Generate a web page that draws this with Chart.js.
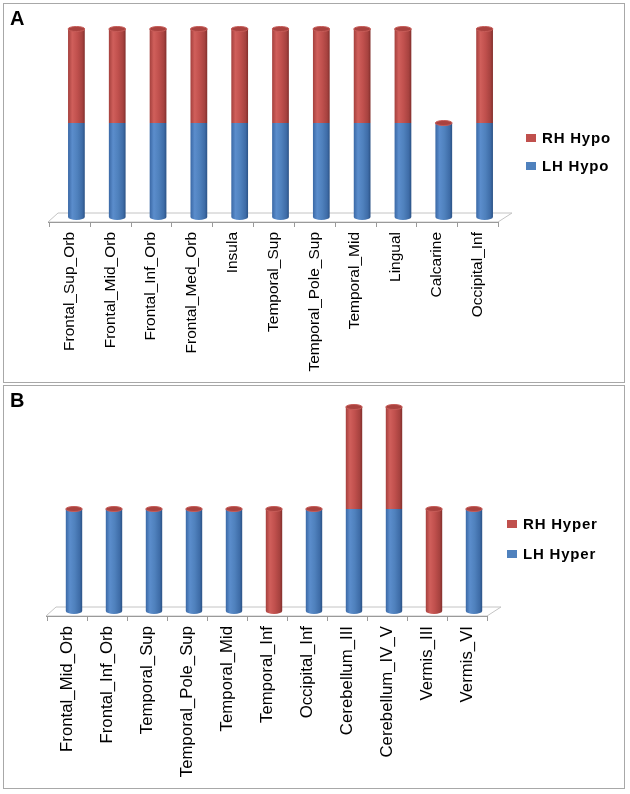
<!DOCTYPE html>
<html>
<head>
<meta charset="utf-8">
<script src="https://cdn.jsdelivr.net/npm/chart.js@4/dist/chart.umd.min.js"></script>
<style>
body{margin:0;background:#fff;width:630px;height:794px;position:relative;font-family:"Liberation Sans",Arial,sans-serif;}
.panel{position:absolute;left:3px;width:620px;border:1px solid #a8a8a8;}
#pA{top:3px;height:378px;}
#pB{top:385px;height:402px;}
.tag{position:absolute;left:6px;top:3px;font:bold 20px "Liberation Sans",Arial,sans-serif;}
.panel canvas{position:absolute;left:0;top:0;}
.legend{position:absolute;font:bold 15px "Liberation Sans",Arial,sans-serif;letter-spacing:0.8px;color:#000;}
.legend div{position:absolute;white-space:nowrap;line-height:16px;}
.legend span{display:inline-block;width:10px;height:8px;margin-right:6px;vertical-align:1px;}
</style>
</head>
<body>
<div class="panel" id="pA">
  <canvas id="chartA" width="620" height="378"></canvas>
  <div class="tag">A</div>
  <div class="legend" style="left:522px;top:126px;">
    <div style="top:0"><span style="background:#C0504D"></span>RH Hypo</div>
    <div style="top:28px"><span style="background:#4F81BD"></span>LH Hypo</div>
  </div>
</div>
<div class="panel" id="pB">
  <canvas id="chartB" width="620" height="402"></canvas>
  <div class="tag">B</div>
  <div class="legend" style="left:503px;top:130px;">
    <div style="top:0"><span style="background:#C0504D"></span>RH Hyper</div>
    <div style="top:30px"><span style="background:#4F81BD"></span>LH Hyper</div>
  </div>
</div>
<script>
const regionsA = ['Frontal_Sup_Orb','Frontal_Mid_Orb','Frontal_Inf_Orb','Frontal_Med_Orb','Insula','Temporal_Sup','Temporal_Pole_Sup','Temporal_Mid','Lingual','Calcarine','Occipital_Inf'];
const lhHypo = [1,1,1,1,1,1,1,1,1,1,1];
const rhHypo = [1,1,1,1,1,1,1,1,1,0,1];

const regionsB = ['Frontal_Mid_Orb','Frontal_Inf_Orb','Temporal_Sup','Temporal_Pole_Sup','Temporal_Mid','Temporal_Inf','Occipital_Inf','Cerebellum_III','Cerebellum_IV_V','Vermis_III','Vermis_VI'];
const lhHyper = [1,1,1,1,1,0,1,1,1,0,1];
const rhHyper = [0,0,0,0,0,1,0,1,1,1,0];

const BAR = 0.41;
const blueStops = ['#3a68a5','#5b8dcc','#4f81bd','#3e6ca7','#2b5285'];
const redStops  = ['#a4403d','#d05f5b','#c0504d','#a6423f','#822f2c'];

// horizontal gradient so the bars look like cylinders
function cyl(stops){
  return function(ctx){
    const chart = ctx.chart;
    const xs = chart.scales.x;
    if (!xs || ctx.dataIndex === undefined) return stops[2];
    const cx = xs.getPixelForValue(ctx.dataIndex);
    const w = xs.width / chart.data.labels.length * BAR;
    if (!isFinite(cx) || !isFinite(w) || w <= 0) return stops[2];
    const g = chart.ctx.createLinearGradient(cx - w/2, 0, cx + w/2, 0);
    g.addColorStop(0, stops[0]);
    g.addColorStop(0.25, stops[1]);
    g.addColorStop(0.55, stops[2]);
    g.addColorStop(0.85, stops[3]);
    g.addColorStop(1, stops[4]);
    return g;
  };
}

// flat 3D floor under the bars with tick marks on its front edge
const floor = {
  id:'floor',
  beforeDatasetsDraw(chart){
    const {ctx, chartArea:a} = chart;
    const n = chart.data.labels.length;
    const cw = (a.right - a.left) / n;
    const back = a.bottom - 4, front = a.bottom + 5;
    ctx.save();
    ctx.strokeStyle = '#c4c4c4';
    ctx.lineWidth = 1;
    ctx.beginPath();
    ctx.moveTo(a.left - 8, front);
    ctx.lineTo(a.left + 2, back);
    ctx.lineTo(a.right + 7, back);
    ctx.lineTo(a.right - 7, front);
    ctx.closePath();
    ctx.stroke();
    ctx.strokeStyle = '#9a9a9a';
    ctx.beginPath();
    for (let k = 0; k <= n; k++){
      const x = Math.round(a.left + k*cw - 7) + 0.5;
      ctx.moveTo(x, front);
      ctx.lineTo(x, front + 5);
    }
    ctx.moveTo(a.left - 8, front + 0.5);
    ctx.lineTo(a.right - 7, front + 0.5);
    ctx.stroke();
    ctx.restore();
  },
  afterDatasetsDraw(chart){
    const {ctx} = chart;
    const lo = chart.getDatasetMeta(0).data;
    const hi = chart.getDatasetMeta(1).data;
    const y0 = chart.scales.y.getPixelForValue(0);
    ctx.save();
    lo.forEach((el, i) => {
      const top = hi[i];
      const w = el.width / 2;
      // rounded base
      const base = chart.data.datasets[0].data[i] > 0 ? el : top;
      ctx.fillStyle = base.options.backgroundColor;
      ctx.beginPath();
      ctx.ellipse(el.x, y0, w, 3, 0, 0, Math.PI);
      ctx.fill();
      // top cap
      ctx.fillStyle = '#a9423f';
      ctx.strokeStyle = '#c65c58';
      ctx.beginPath();
      ctx.ellipse(top.x, top.y, w, 2.5, 0, 0, Math.PI*2);
      ctx.fill();
      ctx.stroke();
    });
    ctx.restore();
  }
};

function makeChart(id, labels, lh, rh, names, pad, axisH, fontSize){
  return new Chart(document.getElementById(id), {
    type:'bar',
    data:{
      labels:labels,
      datasets:[
        {label:names[0], data:lh, backgroundColor:cyl(blueStops), stack:'s'},
        {label:names[1], data:rh, backgroundColor:cyl(redStops), stack:'s'}
      ]
    },
    options:{
      responsive:false,
      animation:false,
      barPercentage:BAR,
      categoryPercentage:1,
      layout:{padding:pad},
      plugins:{legend:{display:false}, tooltip:{enabled:false}},
      scales:{
        x:{
          stacked:true,
          border:{display:false},
          grid:{display:false, drawTicks:false},
          ticks:{
            autoSkip:false, minRotation:90, maxRotation:90,
            padding:15, labelOffset:-7, color:'#000',
            font:{family:'"Liberation Sans", Arial, sans-serif', size:fontSize}
          },
          afterFit(s){ s.height = axisH; }
        },
        y:{stacked:true, display:false, min:0, max:2}
      }
    },
    plugins:[floor]
  });
}

makeChart('chartA', regionsA, lhHypo, rhHypo, ['LH Hypo','RH Hypo'],
  {top:25, left:52, right:119, bottom:0}, 165, 15.5);
makeChart('chartB', regionsB, lhHyper, rhHyper, ['LH Hyper','RH Hyper'],
  {top:21, left:50, right:130, bottom:0}, 177, 16.8);
</script>
</body>
</html>
